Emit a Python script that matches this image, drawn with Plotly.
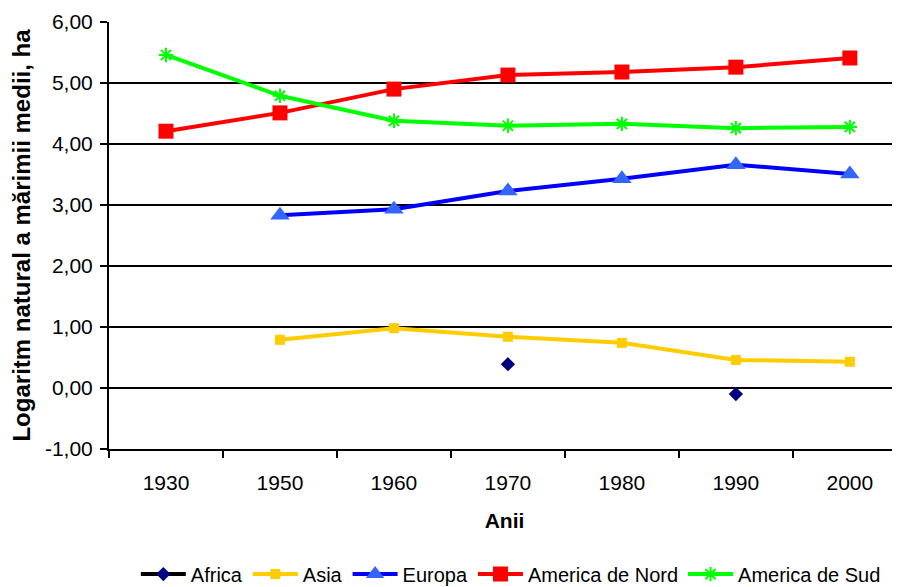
import plotly.graph_objects as go

years = ["1930", "1950", "1960", "1970", "1980", "1990", "2000"]
africa = [None, None, None, 0.39, None, -0.10, None]
asia = [None, 0.79, 0.98, 0.84, 0.74, 0.46, 0.43]
europa = [None, 2.83, 2.93, 3.23, 3.43, 3.66, 3.51]
am_nord = [4.21, 4.51, 4.90, 5.13, 5.18, 5.26, 5.41]
am_sud = [5.46, 4.79, 4.38, 4.30, 4.33, 4.26, 4.28]
y_ticks = [-1, 0, 1, 2, 3, 4, 5, 6]
y_ticktext = [f"{v:.2f}".replace(".", ",") for v in y_ticks]

FONT = "Liberation Sans, Arial, sans-serif"

fig = go.Figure()
fig.add_trace(go.Scatter(x=years, y=africa, name="Africa", mode="lines+markers",
                         line=dict(color="black", width=4),
                         marker=dict(symbol="diamond", color="#000080", size=11),
                         connectgaps=False))
fig.add_trace(go.Scatter(x=years, y=asia, name="Asia", mode="lines+markers",
                         line=dict(color="#FFCC00", width=4),
                         marker=dict(symbol="square", color="#FFCC00", size=10)))
fig.add_trace(go.Scatter(x=years, y=europa, name="Europa", mode="lines+markers",
                         line=dict(color="#0000FF", width=4),
                         marker=dict(symbol="triangle-up", color="#3366FF", size=17)))
fig.add_trace(go.Scatter(x=years, y=am_nord, name="America de Nord", mode="lines+markers",
                         line=dict(color="#FF0000", width=4),
                         marker=dict(symbol="square", color="#FF0000", size=15)))
fig.add_trace(go.Scatter(x=years, y=am_sud, name="America de Sud", mode="lines+markers",
                         line=dict(color="#00FF00", width=4),
                         marker=dict(symbol="asterisk-open", color="#00FF00", size=12,
                                     line=dict(color="#00FF00", width=2))))

fig.update_layout(
    width=892, height=579,
    margin=dict(l=101, r=0, t=14, b=138, autoexpand=False),
    paper_bgcolor="white", plot_bgcolor="white",
    font=dict(family=FONT, size=20, color="black"),
    showlegend=True,
    legend=dict(orientation="h", x=0.508, xanchor="center", y=-0.293, yanchor="middle",
                font=dict(size=20), itemwidth=45, tracegroupgap=0),
)
fig.update_xaxes(
    type="category", range=[-0.5, 6.44], automargin=False,
    showline=True, linecolor="black", linewidth=2,
    ticks="outside", tickson="boundaries", ticklen=7, tickwidth=2, tickcolor="black",
    showgrid=False,
    tickfont=dict(size=21), ticklabelstandoff=14,
    title=dict(text="<b>Anii</b>", font=dict(size=21), standoff=20),
)
fig.update_yaxes(
    range=[-1, 6], tickvals=y_ticks, ticktext=y_ticktext, automargin=False,
    showline=True, linecolor="black", linewidth=2,
    ticks="outside", ticklen=7, tickwidth=2, tickcolor="black",
    showgrid=True, gridcolor="black", gridwidth=1.5,
    zeroline=False,
    tickfont=dict(size=21), ticklabelstandoff=3,
    title=dict(text="<b>Logaritm natural a mărimii medii, ha</b>", font=dict(size=24), standoff=12),
)

fig.write_html("out.html")
